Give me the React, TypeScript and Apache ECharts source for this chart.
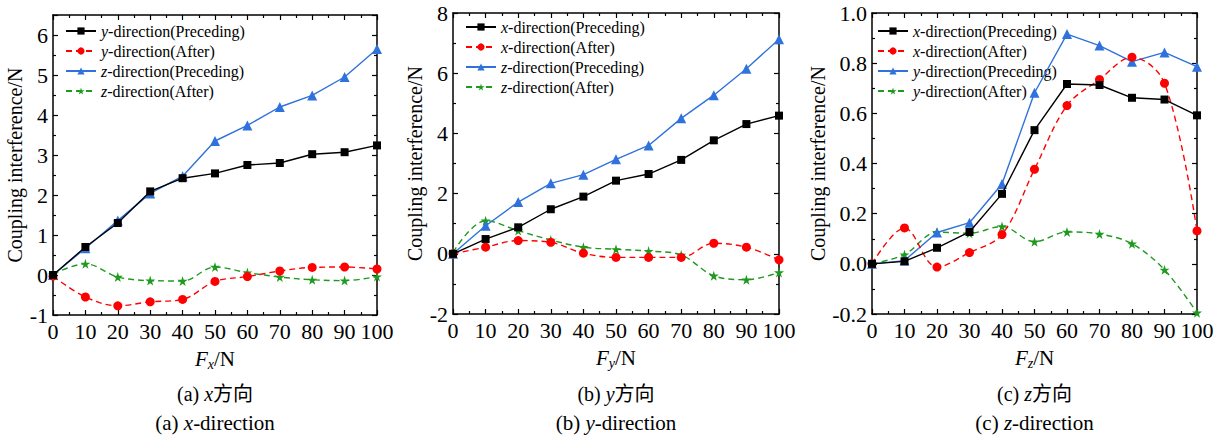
import React, { useEffect, useRef } from 'react';
import * as echarts from 'echarts';

const FORCE = [0, 10, 20, 30, 40, 50, 60, 70, 80, 90, 100];

// Panel (a) x-direction loading
const A_Y_PRE = [0, 0.7, 1.3, 2.09, 2.42, 2.54, 2.75, 2.8, 3.02, 3.07, 3.24];
const A_Y_AFT = [-0.03, -0.55, -0.77, -0.67, -0.61, -0.16, -0.04, 0.1, 0.19, 0.2, 0.15];
const A_Z_PRE = [0, 0.67, 1.36, 2.04, 2.47, 3.35, 3.74, 4.2, 4.49, 4.95, 5.65];
const A_Z_AFT = [0.02, 0.28, -0.05, -0.14, -0.15, 0.2, 0.06, -0.05, -0.12, -0.14, -0.04];

// Panel (b) y-direction loading
const B_X_PRE = [0, 0.49, 0.88, 1.48, 1.9, 2.43, 2.65, 3.12, 3.77, 4.31, 4.59];
const B_X_AFT = [0, 0.22, 0.44, 0.38, 0.02, -0.12, -0.12, -0.12, 0.35, 0.22, -0.2];
const B_Z_PRE = [0, 0.93, 1.72, 2.34, 2.63, 3.14, 3.6, 4.5, 5.27, 6.15, 7.13];
const B_Z_AFT = [0.05, 1.1, 0.77, 0.46, 0.22, 0.15, 0.09, -0.04, -0.73, -0.86, -0.62];

// Panel (c) z-direction loading
const C_X_PRE = [0, 0.01, 0.064, 0.127, 0.279, 0.533, 0.717, 0.713, 0.662, 0.655, 0.592];
const C_X_AFT = [0, 0.143, -0.013, 0.045, 0.117, 0.377, 0.631, 0.735, 0.824, 0.72, 0.131];
const C_Y_PRE = [0, 0.013, 0.125, 0.164, 0.318, 0.682, 0.916, 0.87, 0.806, 0.843, 0.786];
const C_Y_AFT = [0, 0.037, 0.126, 0.122, 0.149, 0.088, 0.127, 0.119, 0.08, -0.024, -0.195];

const NAMES_A = ['y-direction(Preceding)', 'y-direction(After)', 'z-direction(Preceding)', 'z-direction(After)'];
const NAMES_B = ['x-direction(Preceding)', 'x-direction(After)', 'z-direction(Preceding)', 'z-direction(After)'];
const NAMES_C = ['x-direction(Preceding)', 'x-direction(After)', 'y-direction(Preceding)', 'y-direction(After)'];

const X_SUBS = ['x', 'y', 'z'];
const CAPTION_LETTERS = ['a', 'b', 'c'];

const FONT = "'Liberation Serif', 'Times New Roman', 'Noto Sans CJK SC', serif";
const STAR = 'path://M50,0 L61,35 L98,35 L68,57 L79,91 L50,70 L21,91 L32,57 L2,35 L39,35 Z';

const COLORS = ['#000000', '#ff0000', '#2f72dc', '#1f9a1f'];
const SYMBOLS = ['rect', 'circle', 'triangle', STAR];
const SYMBOL_SIZES = [8, 9, 10, 10];

const GRIDS = [
  { left: 53, top: 15, width: 324, height: 300 },
  { left: 453, top: 13, width: 326, height: 301 },
  { left: 872, top: 13, width: 325, height: 301 },
];

const Y_RANGES = [
  { min: -1, max: 6.5, interval: 1, digits: 0, showMax: false },
  { min: -2, max: 8, interval: 2, digits: 0, showMax: true },
  { min: -0.2, max: 1.0, interval: 0.2, digits: 1, showMax: true },
];

const LEGEND_POS = [
  { left: 65, top: 23 },
  { left: 465, top: 19 },
  { left: 877, top: 23 },
];

const TXT = (size: number, extra: any = {}) => ({ fontSize: size, fontFamily: FONT, color: '#000', ...extra });

function makeAxes(gi: number) {
  const yr = Y_RANGES[gi];
  const lineStyle = { color: '#000', width: 1.5 };
  const tick = { show: true, inside: true, length: 5, lineStyle: { color: '#000', width: 1.2 } };
  const minor = { show: true, splitNumber: 2, length: 3, lineStyle: { color: '#000', width: 1.2 } };
  const xBase = {
    type: 'value', gridIndex: gi, min: 0, max: 100, interval: 10,
    axisLine: { show: true, onZero: false, lineStyle },
    axisTick: tick, minorTick: minor,
    splitLine: { show: false }, minorSplitLine: { show: false },
  };
  const yBase = {
    type: 'value', gridIndex: gi, min: yr.min, max: yr.max, interval: yr.interval,
    axisLine: { show: true, onZero: false, lineStyle },
    axisTick: tick, minorTick: minor,
    splitLine: { show: false }, minorSplitLine: { show: false },
  };
  const xAxes = [
    {
      ...xBase, position: 'bottom',
      axisLabel: {
        ...TXT(22), margin: 5,
        formatter: (v: number) => `{t|${Math.round(v)}}`,
        rich: { t: TXT(22) },
      },
      name: `{f|F}{s|${X_SUBS[gi]}}{n|/N}`,
      nameLocation: 'middle', nameGap: 31,
      nameTextStyle: {
        ...TXT(21),
        rich: {
          f: TXT(21, { fontStyle: 'italic' }),
          s: TXT(14, { fontStyle: 'italic', padding: [12, 0, 0, 0] }),
          n: TXT(21),
        },
      },
    },
    { ...xBase, position: 'top', axisLabel: { show: false } },
  ];
  const yAxes = [
    {
      ...yBase, position: 'left',
      axisLabel: {
        ...TXT(22), margin: 5, showMaxLabel: yr.showMax,
        formatter: (v: number) => `{t|${v.toFixed(yr.digits)}}`,
        rich: { t: TXT(22) },
      },
      name: '{t|Coupling interference/N}', nameLocation: 'middle', nameGap: 28,
      nameTextStyle: { ...TXT(20), rich: { t: TXT(20) } },
    },
    { ...yBase, position: 'right', axisLabel: { show: false } },
  ];
  return { xAxes, yAxes };
}

function makeSeries(gi: number, names: string[], data: number[][]) {
  return data.map((vals, k) => ({
    type: 'line',
    name: `${gi}|${names[k]}`,
    xAxisIndex: gi * 2,
    yAxisIndex: gi * 2,
    data: FORCE.map((f, i) => [f, vals[i]]),
    smooth: k % 2 === 1 ? 0.35 : false,
    symbol: SYMBOLS[k],
    symbolSize: SYMBOL_SIZES[k],
    itemStyle: { color: COLORS[k] },
    lineStyle: { color: COLORS[k], width: 1.4, type: k % 2 === 1 ? [6, 4] : 'solid' },
    z: 10 - k,
  }));
}

export default function App() {
  const ref = useRef<HTMLDivElement>(null);
  useEffect(() => {
    if (!ref.current) return;
    const chart = echarts.init(ref.current, undefined, { renderer: 'svg' });
    const xAxis: any[] = [];
    const yAxis: any[] = [];
    [0, 1, 2].forEach((gi) => {
      const a = makeAxes(gi);
      xAxis.push(...a.xAxes);
      yAxis.push(...a.yAxes);
    });
    const allNames = [NAMES_A, NAMES_B, NAMES_C];
    const series = [
      ...makeSeries(0, NAMES_A, [A_Y_PRE, A_Y_AFT, A_Z_PRE, A_Z_AFT]),
      ...makeSeries(1, NAMES_B, [B_X_PRE, B_X_AFT, B_Z_PRE, B_Z_AFT]),
      ...makeSeries(2, NAMES_C, [C_X_PRE, C_X_AFT, C_Y_PRE, C_Y_AFT]),
    ];
    const legend = allNames.map((names, gi) => ({
      data: names.map((n) => `${gi}|${n}`),
      orient: 'vertical',
      left: LEGEND_POS[gi].left,
      top: LEGEND_POS[gi].top,
      padding: 0,
      itemGap: 4,
      itemWidth: 30,
      itemHeight: 9,
      selectedMode: false,
      formatter: (full: string) => {
        const name = full.slice(full.indexOf('|') + 1);
        return `{i|${name.charAt(0)}}{r|${name.slice(1)}}`;
      },
      textStyle: {
        ...TXT(16),
        rich: {
          i: TXT(16, { fontStyle: 'italic' }),
          r: TXT(16),
        },
      },
    }));
    const graphic: any[] = [];
    const capRich = (size: number) => ({
      r: { fontSize: size, fontFamily: FONT, fill: '#000' },
      i: { fontSize: size, fontFamily: FONT, fontStyle: 'italic', fill: '#000' },
    });
    GRIDS.forEach((g, gi) => {
      const cx = g.left + g.width / 2;
      graphic.push({
        type: 'text', x: cx, y: 394,
        style: {
          text: `{r|(${CAPTION_LETTERS[gi]}) }{i|${X_SUBS[gi]}}{r|方向}`,
          fontSize: 20, fontFamily: FONT, fill: '#000',
          textAlign: 'center', textVerticalAlign: 'middle',
          rich: capRich(20),
        },
      });
      graphic.push({
        type: 'text', x: cx, y: 423,
        style: {
          text: `{r|(${CAPTION_LETTERS[gi]}) }{i|${X_SUBS[gi]}}{r|-direction}`,
          fontSize: 21, fontFamily: FONT, fill: '#000',
          textAlign: 'center', textVerticalAlign: 'middle',
          rich: capRich(21),
        },
      });
    });
    chart.setOption({
      animation: false,
      backgroundColor: '#ffffff',
      grid: GRIDS.map((g) => ({ ...g, containLabel: false })),
      xAxis,
      yAxis,
      legend,
      series,
      graphic,
    });
    return () => chart.dispose();
  }, []);
  return (
    <div
      ref={ref}
      style={{ position: 'absolute', left: 0, top: 0, width: 1223, height: 436 }}
    />
  );
}
